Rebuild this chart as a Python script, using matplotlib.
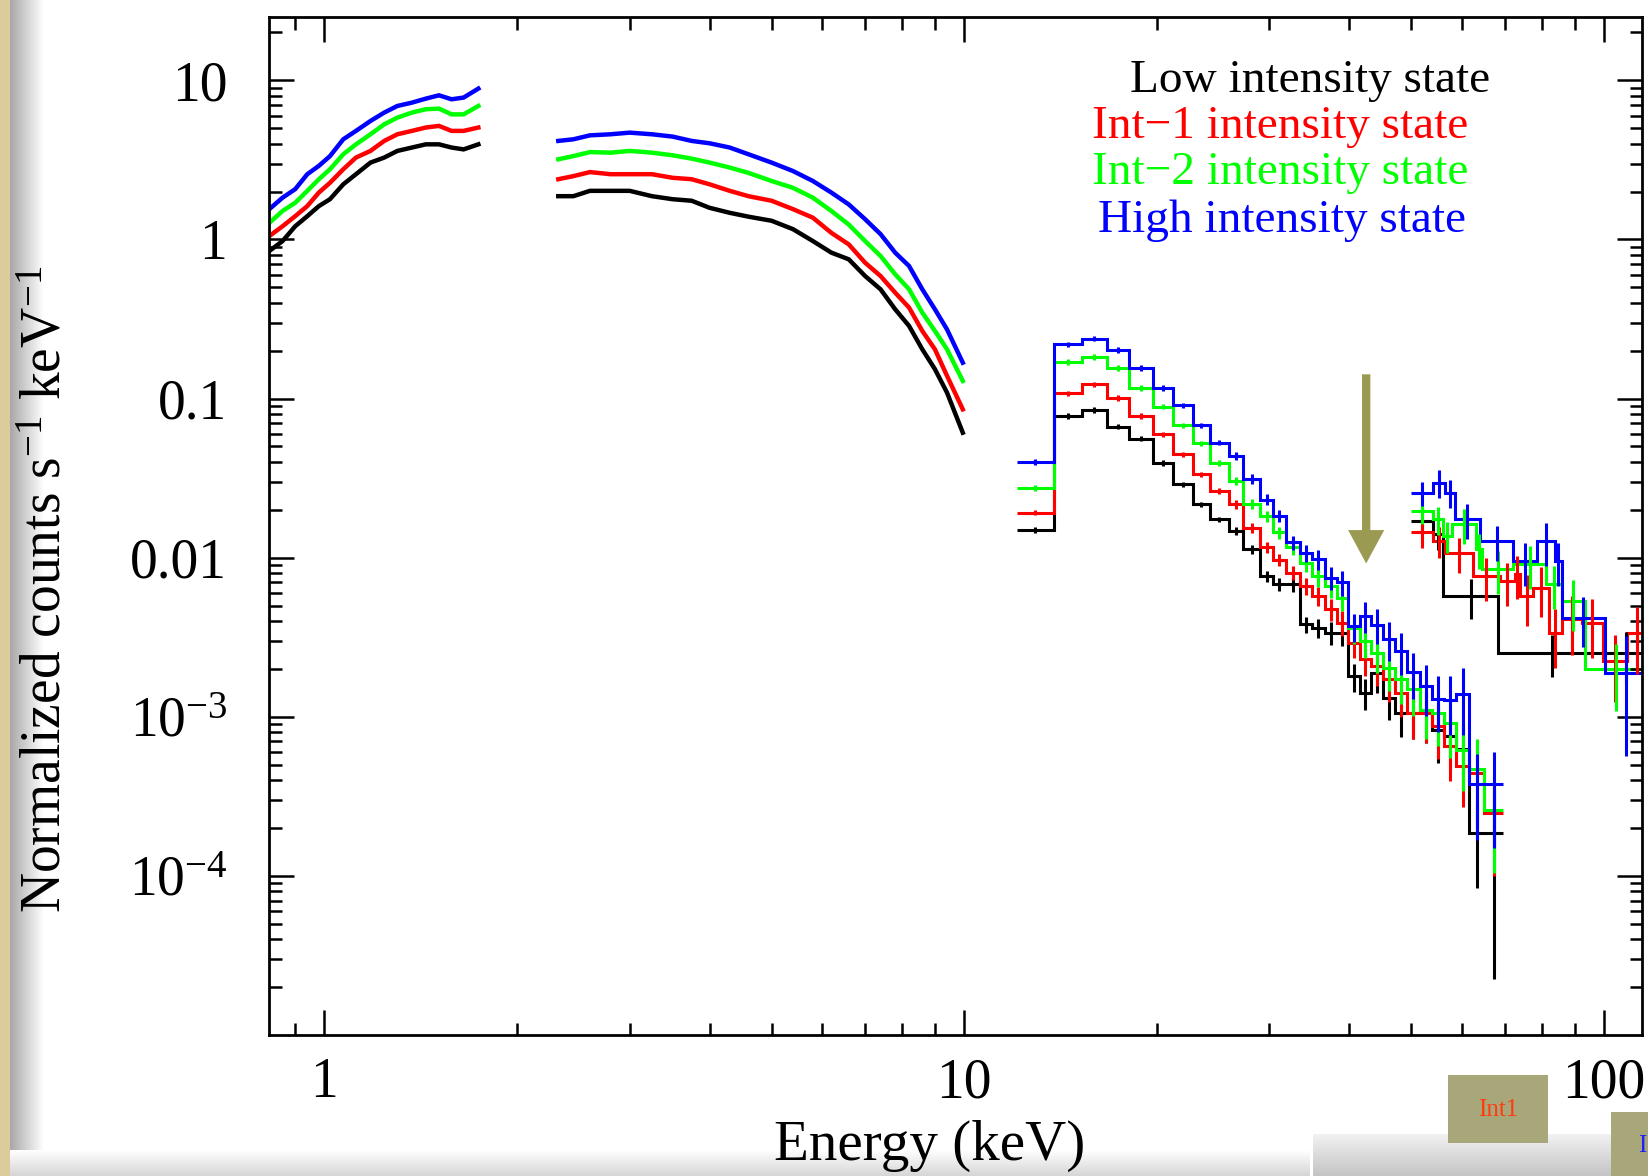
import numpy as np
import matplotlib
matplotlib.use("Agg")
import matplotlib.pyplot as plt
from matplotlib.patches import Rectangle
from matplotlib.ticker import LogLocator, NullFormatter

plt.rcParams["font.family"] = ["Liberation Serif", "DejaVu Serif"]
plt.rcParams["mathtext.fontset"] = "custom"
plt.rcParams["mathtext.rm"] = "Liberation Serif"
plt.rcParams["mathtext.it"] = "Liberation Serif:italic"
plt.rcParams["mathtext.bf"] = "Liberation Serif:bold"

# ---- data (energies in keV, normalized counts s^-1 keV^-1) ----
state_names = ["Low intensity state", "Int\u22121 intensity state",
               "Int\u22122 intensity state", "High intensity state"]
state_colors = ["#000000", "#ff0000", "#00ff00", "#0000ff"]

# soft band, part 1
e_a = [0.82, 0.86, 0.90, 0.94, 0.98, 1.02, 1.07, 1.12, 1.18, 1.24, 1.30, 1.37,
       1.44, 1.51, 1.58, 1.65, 1.74]
low_a = [0.846, 0.977, 1.21, 1.40, 1.62, 1.79, 2.22, 2.57, 3.04, 3.27, 3.60, 3.78,
         3.96, 3.96, 3.78, 3.68, 3.96]
int1_a = [1.05, 1.21, 1.40, 1.62, 1.97, 2.27, 2.76, 3.27, 3.60, 4.16, 4.58, 4.81,
          5.05, 5.17, 4.81, 4.81, 5.05]
int2_a = [1.27, 1.51, 1.70, 2.02, 2.39, 2.76, 3.43, 3.96, 4.58, 5.29, 5.83, 6.27,
          6.58, 6.64, 6.11, 6.11, 6.90]
high_a = [1.55, 1.83, 2.07, 2.57, 2.90, 3.34, 4.26, 4.81, 5.55, 6.27, 6.90, 7.24,
          7.67, 8.05, 7.60, 7.79, 8.87]

# soft band, part 2
e_b = [2.32, 2.45, 2.6, 2.8, 3.0, 3.25, 3.5, 3.75, 4.0, 4.3, 4.6, 5.0, 5.4, 5.8,
       6.2, 6.6, 7.0, 7.4, 7.8, 8.2, 8.6, 9.0, 9.4, 9.95]
low_b = [1.87, 1.87, 2.02, 2.02, 2.02, 1.87, 1.79, 1.75, 1.58, 1.47, 1.39, 1.31,
         1.16, 0.977, 0.826, 0.750, 0.589, 0.486, 0.364, 0.286, 0.204, 0.153, 0.109, 0.061]
int1_b = [2.39, 2.50, 2.65, 2.57, 2.57, 2.57, 2.44, 2.39, 2.22, 2.02, 1.87, 1.75,
          1.55, 1.37, 1.10, 0.931, 0.714, 0.589, 0.463, 0.373, 0.266, 0.204, 0.139, 0.0855]
int2_b = [3.19, 3.34, 3.54, 3.51, 3.60, 3.51, 3.38, 3.22, 3.04, 2.83, 2.62, 2.33,
          2.11, 1.83, 1.51, 1.24, 0.977, 0.787, 0.604, 0.486, 0.347, 0.266, 0.204, 0.129]
high_b = [4.16, 4.26, 4.51, 4.58, 4.69, 4.58, 4.43, 4.16, 4.02, 3.78, 3.43, 3.04,
          2.69, 2.33, 1.97, 1.66, 1.34, 1.08, 0.826, 0.681, 0.486, 0.364, 0.272, 0.168]

# hard band (binned)
edges_c = [12.1, 13.8, 15.3, 16.7, 18.1, 19.7, 21.2, 22.8, 24.2, 25.9, 27.3, 29.0,
           30.4, 31.8, 33.5, 35.0, 36.6, 38.2, 39.8, 41.5, 43.3, 45.2, 47.2, 49.3,
           51.5, 53.8, 56.2, 58.8, 61.5, 65.0, 69.5]
low_c = [0.0149, 0.0776, 0.0847, 0.0666, 0.0560, 0.0395, 0.0289, 0.0216, 0.0174,
         0.0147, 0.0113, 0.00766, 0.00679, 0.00679, 0.00381, 0.00363, 0.00338,
         0.00338, 0.0018, 0.00142, 0.00189, 0.00132, 0.00106, 0.00106, 0.00106,
         0.00083, 0.000757, 0.000624, 0.000187, 0.000187]
int1_c = [0.0192, 0.108, 0.123, 0.101, 0.0776, 0.0596, 0.0446, 0.0334, 0.0262,
          0.0216, 0.0154, 0.0116, 0.00967, 0.00804, 0.00663, 0.00574, 0.00473,
          0.0039, 0.00292, 0.0023, 0.00208, 0.00172, 0.00142, 0.00106, 0.00106,
          0.000875, 0.000655, 0.00049, 0.000445, 0.000249]
int2_c = [0.0275, 0.170, 0.183, 0.156, 0.117, 0.0889, 0.0679, 0.0523, 0.0395,
          0.0303, 0.0218, 0.0183, 0.0144, 0.0116, 0.0093, 0.00766, 0.00663,
          0.0056, 0.0036, 0.0030, 0.00253, 0.00203, 0.00172, 0.00149, 0.00111,
          0.00106, 0.00092, 0.00062, 0.00047, 0.00026]
high_c = [0.0399, 0.219, 0.238, 0.202, 0.156, 0.117, 0.0906, 0.0679, 0.0528,
          0.0436, 0.0313, 0.0232, 0.0183, 0.0125, 0.0107, 0.00975, 0.00748,
          0.0070, 0.0037, 0.0043, 0.0038, 0.0031, 0.0026, 0.0019, 0.00156,
          0.0013, 0.00128, 0.0014, 0.000376, 0.000376]
err_c = [0.04, 0.04, 0.04, 0.04, 0.04, 0.04, 0.04, 0.04, 0.04, 0.06, 0.07, 0.08,
         0.09, 0.10, 0.12, 0.14, 0.16, 0.18, 0.20, 0.22, 0.25, 0.28, 0.30, 0.32,
         0.35, 0.38, 0.40, 0.45, 0.55, 0.60]
err_c_low = [0.04, 0.04, 0.04, 0.04, 0.04, 0.04, 0.04, 0.04, 0.04, 0.06, 0.07, 0.08,
             0.09, 0.10, 0.12, 0.14, 0.16, 0.18, 0.20, 0.22, 0.25, 0.28, 0.30, 0.32,
             0.35, 0.38, 0.40, 0.45, 0.55, 0.88]

# highest band (coarse bins)
low_d_edges = [50.0, 54.1, 56.1, 68.4, 100.4, 117.0]
low_d = [0.0170, 0.0140, 0.00574, 0.00253, 0.00253]
low_d_err = [0.15, 0.20, 0.28, 0.30, 0.35]
int1_d_edges = [50.0, 54.1, 56.4, 62.5, 68.7, 72.6, 73.9, 77.6, 82.1, 85.9, 92.3,
                99.8, 108.5, 117.0]
int1_d = [0.0144, 0.0127, 0.0107, 0.00767, 0.00713, 0.00785, 0.00574, 0.00648,
          0.00338, 0.00409, 0.0039, 0.00224, 0.00338]
int1_d_err = [0.20, 0.22, 0.25, 0.30, 0.30, 0.30, 0.35, 0.35, 0.40, 0.40, 0.40, 0.45, 0.45]
int2_d_edges = [50.0, 54.1, 56.1, 57.8, 63.2, 64.4, 72.2, 81.2, 85.9, 93.4, 117.0]
int2_d = [0.0196, 0.0174, 0.0137, 0.0162, 0.0113, 0.00844, 0.00907, 0.0068,
          0.00534, 0.00199]
int2_d_err = [0.17, 0.20, 0.22, 0.25, 0.25, 0.30, 0.30, 0.30, 0.35, 0.45]
high_d_edges = [50.0, 54.1, 56.4, 58.5, 64.0, 72.2, 78.5, 83.8, 85.9, 100.4, 117.0]
high_d = [0.0256, 0.0296, 0.0256, 0.0174, 0.0127, 0.00952, 0.0127, 0.00952,
          0.0042, 0.00189]
high_d_err = [0.17, 0.20, 0.20, 0.25, 0.25, 0.30, 0.30, 0.30, 0.35, 0.70]

arrow_energy = 42.5
arrow_from, arrow_to = 0.142, 0.0092

LW = 2.2


def draw_binned(ax, edges, vals, rel, color):
    edges = np.asarray(edges)
    vals = np.asarray(vals)
    rel = np.asarray(rel)
    ax.stairs(vals, edges, baseline=None, color=color, lw=LW)
    mid = np.sqrt(edges[:-1] * edges[1:])
    ax.errorbar(mid, vals, yerr=vals * rel, fmt="none", ecolor=color, elinewidth=LW)


fig = plt.figure(figsize=(16.48, 11.76), dpi=100)
ax = fig.add_axes([269 / 1648, 1 - 1035 / 1176, 1373 / 1648, 1018 / 1176])

series = [
    (low_a, low_b, low_c, err_c_low, low_d_edges, low_d, low_d_err),
    (int1_a, int1_b, int1_c, err_c, int1_d_edges, int1_d, int1_d_err),
    (int2_a, int2_b, int2_c, err_c, int2_d_edges, int2_d, int2_d_err),
    (high_a, high_b, high_c, err_c, high_d_edges, high_d, high_d_err),
]
for color, (va, vb, vc, ec, ed, vd, errd) in zip(state_colors, series):
    ax.plot(e_a, va, color=color, lw=LW + 1.0, solid_joinstyle="miter")
    ax.plot(e_b, vb, color=color, lw=LW + 1.0, solid_joinstyle="miter")
    draw_binned(ax, edges_c, vc, ec, color)
    draw_binned(ax, ed, vd, errd, color)

ax.annotate("", xy=(arrow_energy, arrow_to), xytext=(arrow_energy, arrow_from),
            arrowprops=dict(width=6, headwidth=26, headlength=24, shrink=0,
                            facecolor="#9b9a52", edgecolor="none"))

ax.set_xscale("log")
ax.set_yscale("log")
ax.set_xlim(0.819, 114.7)
ax.set_ylim(1e-5, 25)

ax.set_xticks([1, 10, 100], ["1", "10", "100"])
ax.set_yticks([1e-4, 1e-3, 1e-2, 1e-1, 1, 10],
              ["10$^{\u22124}$", "10$^{\u22123}$", "0.01", "0.1", "1", "10"])
ax.xaxis.set_minor_locator(LogLocator(base=10, subs=np.arange(2, 10), numticks=20))
ax.yaxis.set_minor_locator(LogLocator(base=10, subs=np.arange(2, 10), numticks=20))
ax.xaxis.set_minor_formatter(NullFormatter())
ax.yaxis.set_minor_formatter(NullFormatter())

ax.tick_params(which="both", direction="in", top=True, right=True, width=1.8)
ax.tick_params(which="major", length=18)
ax.tick_params(which="minor", length=9)
ax.tick_params(axis="y", which="major", pad=30, labelsize=40)
ax.tick_params(axis="x", which="major", pad=16, labelsize=40)
for sp in ax.spines.values():
    sp.set_linewidth(2.0)

fig.text(47 / 1648, 1 - 589 / 1176, "Normalized counts s$^{\u22121}$ keV$^{\u22121}$",
         rotation=90, ha="center", va="center", fontsize=40)
fig.text(930 / 1648, 1 - 1146 / 1176, "Energy (keV)", ha="center", va="center",
         fontsize=41)

legend_pos = [(1490, 81), (1468, 127), (1468, 173), (1466, 221)]
for name, color, (px, py) in zip(state_names, state_colors, legend_pos):
    fig.text(px / 1648, 1 - py / 1176, name, color=color, ha="right", va="center",
             fontsize=34)

# screenshot page edges
def gradient_axes(rect, c0, c1, vertical=False):
    g = fig.add_axes(rect, zorder=-5)
    t = np.linspace(0, 1, 64)
    c0 = np.array(matplotlib.colors.to_rgb(c0))
    c1 = np.array(matplotlib.colors.to_rgb(c1))
    img = c0[None, :] * (1 - t[:, None]) + c1[None, :] * t[:, None]
    img = img[:, None, :] if vertical else img[None, :, :]
    g.imshow(img, aspect="auto", extent=(0, 1, 0, 1), origin="upper")
    g.axis("off")


gradient_axes([10 / 1648, 0, 34 / 1648, 1], "#a8a8a8", "#ffffff")
gradient_axes([10 / 1648, 0, 1300 / 1648, 26 / 1176], "#ffffff", "#d6d6d6", vertical=True)
gradient_axes([1313 / 1648, 0, 335 / 1648, 42 / 1176], "#f2f2f2", "#c4c4c4", vertical=True)
fig.add_artist(Rectangle((0, 0), 10 / 1648, 1, transform=fig.transFigure,
                         facecolor="#dccb9b", edgecolor="none"))
fig.add_artist(Rectangle((1448 / 1648, 1 - 1143 / 1176), 100 / 1648, 68 / 1176,
                         transform=fig.transFigure, facecolor="#a8a77a", edgecolor="none"))
fig.text(1498 / 1648, 1 - 1110 / 1176, "Int1", color="#ff3b10", ha="center",
         va="center", fontsize=18)
fig.add_artist(Rectangle((1611 / 1648, 0), 37 / 1648, 64 / 1176,
                         transform=fig.transFigure, facecolor="#a8a77a", edgecolor="none"))
fig.text(1638 / 1648, 1 - 1146 / 1176, "I", color="#2020ff", ha="left", va="center",
         fontsize=18)

fig.savefig("out.png", dpi=100)
